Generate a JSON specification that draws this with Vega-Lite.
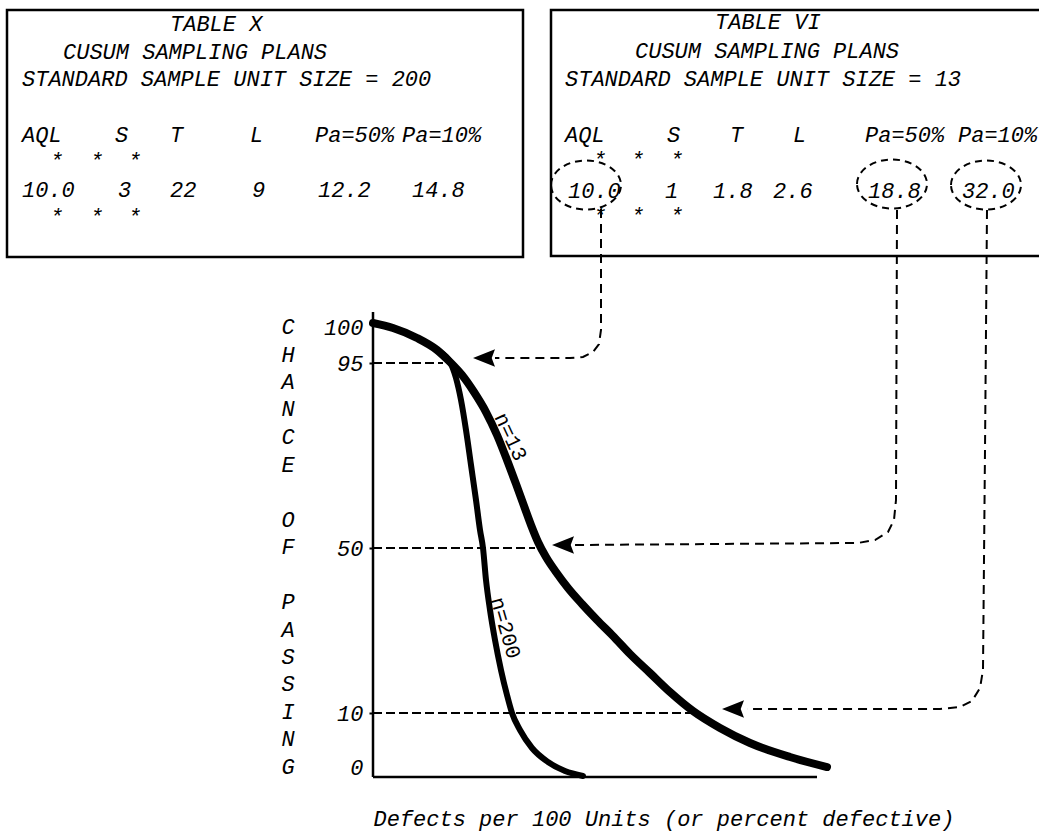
{
  "$schema": "https://vega.github.io/schema/vega-lite/v6.json",
  "width": 666,
  "height": 777,
  "autosize": {"type": "none"},
  "padding": {"left": 373, "top": 0, "right": 0, "bottom": 60},
  "background": "white",
  "config": {"view": {"stroke": null}, "font": "Liberation Mono"},
  "datasets": {
    "boxes": [
      {"name": "Table X", "x": -36.6, "x2": 15.0, "y": 413, "y2": 166},
      {"name": "Table VI", "x": 17.8, "x2": 70, "y": 413, "y2": 167}
    ],
    "tableText": [
      {"label": "TABLE X", "x": -20.3, "y": 399},
      {"label": "CUSUM SAMPLING PLANS", "x": -31.0, "y": 371},
      {"label": "STANDARD SAMPLE UNIT SIZE = 200", "x": -35.1, "y": 344},
      {"label": "AQL", "x": -35.1, "y": 288},
      {"label": "S", "x": -25.8, "y": 288},
      {"label": "T", "x": -20.3, "y": 288},
      {"label": "L", "x": -12.3, "y": 288},
      {"label": "Pa=50%", "x": -5.8, "y": 288},
      {"label": "Pa=10%", "x": 2.9, "y": 288},
      {"label": "*", "x": -32.3, "y": 262},
      {"label": "*", "x": -28.3, "y": 262},
      {"label": "*", "x": -24.5, "y": 262},
      {"label": "10.0", "x": -35.1, "y": 233},
      {"label": "3", "x": -25.5, "y": 233},
      {"label": "22", "x": -20.3, "y": 233},
      {"label": "9", "x": -12.1, "y": 233},
      {"label": "12.2", "x": -5.5, "y": 233},
      {"label": "14.8", "x": 3.9, "y": 233},
      {"label": "*", "x": -32.3, "y": 206},
      {"label": "*", "x": -28.3, "y": 206},
      {"label": "*", "x": -24.5, "y": 206},
      {"label": "TABLE VI", "x": 34.2, "y": 401},
      {"label": "CUSUM SAMPLING PLANS", "x": 26.2, "y": 372},
      {"label": "STANDARD SAMPLE UNIT SIZE = 13", "x": 19.2, "y": 344},
      {"label": "AQL", "x": 19.2, "y": 288},
      {"label": "S", "x": 29.4, "y": 288},
      {"label": "T", "x": 35.7, "y": 288},
      {"label": "L", "x": 42.0, "y": 288},
      {"label": "Pa=50%", "x": 49.2, "y": 288},
      {"label": "Pa=10%", "x": 58.5, "y": 288},
      {"label": "*", "x": 22.0, "y": 263},
      {"label": "*", "x": 25.8, "y": 263},
      {"label": "*", "x": 29.7, "y": 263},
      {"label": "10.0", "x": 19.5, "y": 232},
      {"label": "1", "x": 29.2, "y": 232},
      {"label": "1.8", "x": 34.0, "y": 232},
      {"label": "2.6", "x": 40.0, "y": 232},
      {"label": "18.8", "x": 49.5, "y": 232},
      {"label": "32.0", "x": 58.9, "y": 232},
      {"label": "*", "x": 22.0, "y": 207},
      {"label": "*", "x": 25.8, "y": 207},
      {"label": "*", "x": 29.7, "y": 207}
    ],
    "yTitle": [
      {"letter": "C", "x": -8.5, "y": 99.5},
      {"letter": "H", "x": -8.5, "y": 96.06},
      {"letter": "A", "x": -8.5, "y": 90.38},
      {"letter": "N", "x": -8.5, "y": 83.69},
      {"letter": "C", "x": -8.5, "y": 77.0},
      {"letter": "E", "x": -8.5, "y": 70.31},
      {"letter": "O", "x": -8.5, "y": 56.93},
      {"letter": "F", "x": -8.5, "y": 50.24},
      {"letter": "P", "x": -8.5, "y": 36.91},
      {"letter": "A", "x": -8.5, "y": 30.24},
      {"letter": "S", "x": -8.5, "y": 23.58},
      {"letter": "S", "x": -8.5, "y": 16.91},
      {"letter": "I", "x": -8.5, "y": 10.24},
      {"letter": "N", "x": -8.5, "y": 5.86},
      {"letter": "G", "x": -8.5, "y": 1.56}
    ],
    "ellipses": [
      {"value": "10.0", "x": 21.3, "y": 238},
      {"value": "18.8", "x": 51.9, "y": 239},
      {"value": "32.0", "x": 61.3, "y": 238}
    ],
    "leaders": [
      {"path": "AQL", "i": 0, "x": 22.8, "y": 214},
      {"path": "AQL", "i": 1, "x": 22.8, "y": 99.125},
      {"path": "AQL", "i": 2, "x": 22.6, "y": 97.375},
      {"path": "AQL", "i": 3, "x": 22.0, "y": 96.375},
      {"path": "AQL", "i": 4, "x": 21.0, "y": 95.75},
      {"path": "AQL", "i": 5, "x": 19.7, "y": 95.625},
      {"path": "AQL", "i": 6, "x": 12.2, "y": 95.625},
      {"path": "Pa50", "i": 0, "x": 52.4, "y": 213},
      {"path": "Pa50", "i": 1, "x": 52.3, "y": 61.68},
      {"path": "Pa50", "i": 2, "x": 52.1, "y": 56.81},
      {"path": "Pa50", "i": 3, "x": 51.5, "y": 53.89},
      {"path": "Pa50", "i": 4, "x": 50.2, "y": 51.95},
      {"path": "Pa50", "i": 5, "x": 48.5, "y": 51.22},
      {"path": "Pa50", "i": 6, "x": 20.2, "y": 50.73},
      {"path": "Pa10", "i": 0, "x": 61.4, "y": 213},
      {"path": "Pa10", "i": 1, "x": 61.2, "y": 73.84},
      {"path": "Pa10", "i": 2, "x": 61.0, "y": 20.42},
      {"path": "Pa10", "i": 3, "x": 60.7, "y": 16.06},
      {"path": "Pa10", "i": 4, "x": 59.9, "y": 12.91},
      {"path": "Pa10", "i": 5, "x": 58.7, "y": 11.45},
      {"path": "Pa10", "i": 6, "x": 56.7, "y": 10.97},
      {"path": "Pa10", "i": 7, "x": 37.4, "y": 10.97}
    ],
    "arrowheads": [
      {"target": "95", "x": 11.1, "y": 95.625},
      {"target": "50", "x": 19.0, "y": 50.73},
      {"target": "10", "x": 36.0, "y": 10.97}
    ],
    "refLines": [
      {"pct": "95", "x": 0, "x2": 7.0, "y": 95},
      {"pct": "50", "x": 0, "x2": 16.2, "y": 50},
      {"pct": "10", "x": 0, "x2": 32.2, "y": 10}
    ],
    "axisLines": [
      {"axis": "y", "x": 0, "x2": 0, "y": 0, "y2": 111},
      {"axis": "x", "x": 0, "x2": 44.4, "y": 0, "y2": 0}
    ],
    "curves": [
      {"n": "13", "x": 0, "y": 100},
      {"n": "13", "x": 2.0, "y": 99.375},
      {"n": "13", "x": 4.4, "y": 98.125},
      {"n": "13", "x": 6.4, "y": 96.625},
      {"n": "13", "x": 7.7, "y": 95.125},
      {"n": "13", "x": 8.9, "y": 92.08},
      {"n": "13", "x": 10.1, "y": 87.95},
      {"n": "13", "x": 11.3, "y": 83.08},
      {"n": "13", "x": 12.4, "y": 77.49},
      {"n": "13", "x": 13.4, "y": 71.41},
      {"n": "13", "x": 14.3, "y": 65.57},
      {"n": "13", "x": 15.1, "y": 60.22},
      {"n": "13", "x": 15.8, "y": 55.59},
      {"n": "13", "x": 16.5, "y": 51.46},
      {"n": "13", "x": 17.3, "y": 47.82},
      {"n": "13", "x": 18.3, "y": 44.18},
      {"n": "13", "x": 19.5, "y": 40.30},
      {"n": "13", "x": 20.9, "y": 36.42},
      {"n": "13", "x": 22.4, "y": 32.55},
      {"n": "13", "x": 24.0, "y": 28.67},
      {"n": "13", "x": 25.7, "y": 24.30},
      {"n": "13", "x": 27.7, "y": 19.70},
      {"n": "13", "x": 29.7, "y": 15.09},
      {"n": "13", "x": 32.0, "y": 10.48},
      {"n": "13", "x": 34.7, "y": 7.66},
      {"n": "13", "x": 37.7, "y": 5.31},
      {"n": "13", "x": 41.7, "y": 3.13},
      {"n": "13", "x": 45.4, "y": 1.56},
      {"n": "200", "x": 0, "y": 100},
      {"n": "200", "x": 2.0, "y": 99.375},
      {"n": "200", "x": 4.4, "y": 98.125},
      {"n": "200", "x": 6.4, "y": 96.625},
      {"n": "200", "x": 7.7, "y": 95.125},
      {"n": "200", "x": 8.3, "y": 91.35},
      {"n": "200", "x": 8.8, "y": 86.0},
      {"n": "200", "x": 9.3, "y": 78.7},
      {"n": "200", "x": 9.8, "y": 70.19},
      {"n": "200", "x": 10.3, "y": 61.68},
      {"n": "200", "x": 10.7, "y": 54.38},
      {"n": "200", "x": 11.0, "y": 50},
      {"n": "200", "x": 11.3, "y": 42.24},
      {"n": "200", "x": 11.7, "y": 34.97},
      {"n": "200", "x": 12.2, "y": 27.7},
      {"n": "200", "x": 12.8, "y": 20.42},
      {"n": "200", "x": 13.4, "y": 14.36},
      {"n": "200", "x": 13.9, "y": 10},
      {"n": "200", "x": 14.7, "y": 7.34},
      {"n": "200", "x": 15.9, "y": 4.53},
      {"n": "200", "x": 17.5, "y": 2.34},
      {"n": "200", "x": 19.2, "y": 0.94},
      {"n": "200", "x": 21.0, "y": 0.16}
    ],
    "curveLabels": [
      {"n": "13", "label": "n=13", "x": 13.7, "y": 77.0},
      {"n": "200", "label": "n=200", "x": 13.2, "y": 30.6}
    ]
  },
  "encoding": {
    "x": {
      "field": "x",
      "type": "quantitative",
      "scale": {"domain": [0, 66.6], "nice": false, "zero": false},
      "axis": {
        "title": "Defects per 100 Units (or percent defective)",
        "labels": false,
        "ticks": false,
        "domain": false,
        "grid": false,
        "titleFont": "Liberation Mono",
        "titleFontStyle": "italic",
        "titleFontWeight": "normal",
        "titleFontSize": 22,
        "titleColor": "black",
        "titleAnchor": "start",
        "titleAlign": "left",
        "titlePadding": 31
      }
    },
    "y": {
      "field": "y",
      "type": "quantitative",
      "scale": {
        "domain": [-60, 0, 10, 50, 95, 100, 423],
        "range": [837, 777, 713, 548, 363, 323, 0],
        "nice": false,
        "zero": false
      },
      "axis": {
        "values": [0, 10, 50, 95, 100],
        "domain": false,
        "grid": false,
        "ticks": true,
        "tickSize": 4,
        "tickWidth": 2,
        "tickColor": "black",
        "tickOpacity": {"condition": {"test": "datum.value === 0 || datum.value === 100", "value": 0}, "value": 1},
        "labelFont": "Liberation Mono",
        "labelFontStyle": "italic",
        "labelFontSize": 22,
        "labelColor": "black",
        "labelPadding": 6,
        "labelOverlap": false,
        "labelFlush": false,
        "labelOffset": {"condition": [{"test": "datum.value === 0", "value": -10}, {"test": "datum.value === 100", "value": 4}], "value": 0},
        "title": null
      }
    }
  },
  "layer": [
    {
      "data": {"name": "boxes"},
      "mark": {"type": "rect", "filled": false, "stroke": "black", "strokeWidth": 2.5},
      "encoding": {"x2": {"field": "x2"}, "y2": {"field": "y2"}}
    },
    {
      "data": {"name": "tableText"},
      "mark": {"type": "text", "align": "left", "baseline": "middle", "font": "Liberation Mono", "fontStyle": "italic", "fontSize": 22, "color": "black"},
      "encoding": {"text": {"field": "label"}}
    },
    {
      "data": {"name": "yTitle"},
      "mark": {"type": "text", "align": "center", "baseline": "middle", "font": "Liberation Mono", "fontStyle": "italic", "fontSize": 22, "color": "black"},
      "encoding": {"text": {"field": "letter"}}
    },
    {
      "data": {"name": "ellipses"},
      "mark": {
        "type": "point",
        "shape": "M -1 0 C -1 -0.3866 -0.5523 -0.7 0 -0.7 C 0.5523 -0.7 1 -0.3866 1 0 C 1 0.3866 0.5523 0.7 0 0.7 C -0.5523 0.7 -1 0.3866 -1 0 Z",
        "size": 4900,
        "filled": false,
        "stroke": "black",
        "strokeWidth": 2,
        "strokeDash": [7, 5],
        "opacity": 1
      }
    },
    {
      "data": {"name": "leaders"},
      "mark": {"type": "line", "stroke": "black", "strokeWidth": 2, "strokeDash": [9, 6]},
      "encoding": {"detail": {"field": "path"}, "order": {"field": "i"}}
    },
    {
      "data": {"name": "arrowheads"},
      "mark": {"type": "point", "shape": "M -1 0 L 1 -0.8 L 0.7 0 L 1 0.8 Z", "size": 484, "filled": true, "color": "black", "opacity": 1}
    },
    {
      "data": {"name": "refLines"},
      "mark": {"type": "rule", "strokeWidth": 2, "strokeDash": [9, 4], "color": "black"},
      "encoding": {"x2": {"field": "x2"}}
    },
    {
      "data": {"name": "axisLines"},
      "mark": {"type": "rule", "strokeWidth": 2.5, "color": "black"},
      "encoding": {"x2": {"field": "x2"}, "y2": {"field": "y2"}}
    },
    {
      "data": {"name": "curves"},
      "mark": {"type": "line", "interpolate": "monotone", "color": "black", "strokeCap": "round"},
      "encoding": {
        "detail": {"field": "n"},
        "strokeWidth": {"field": "n", "type": "nominal", "scale": {"domain": ["13", "200"], "range": [8, 6]}, "legend": null}
      }
    },
    {
      "data": {"name": "curveLabels"},
      "transform": [{"filter": "datum.n === '13'"}],
      "mark": {"type": "text", "align": "center", "baseline": "middle", "angle": 65, "font": "Liberation Mono", "fontSize": 21, "color": "black"},
      "encoding": {"text": {"field": "label"}}
    },
    {
      "data": {"name": "curveLabels"},
      "transform": [{"filter": "datum.n === '200'"}],
      "mark": {"type": "text", "align": "center", "baseline": "middle", "angle": 74, "font": "Liberation Mono", "fontSize": 21, "color": "black"},
      "encoding": {"text": {"field": "label"}}
    }
  ]
}
